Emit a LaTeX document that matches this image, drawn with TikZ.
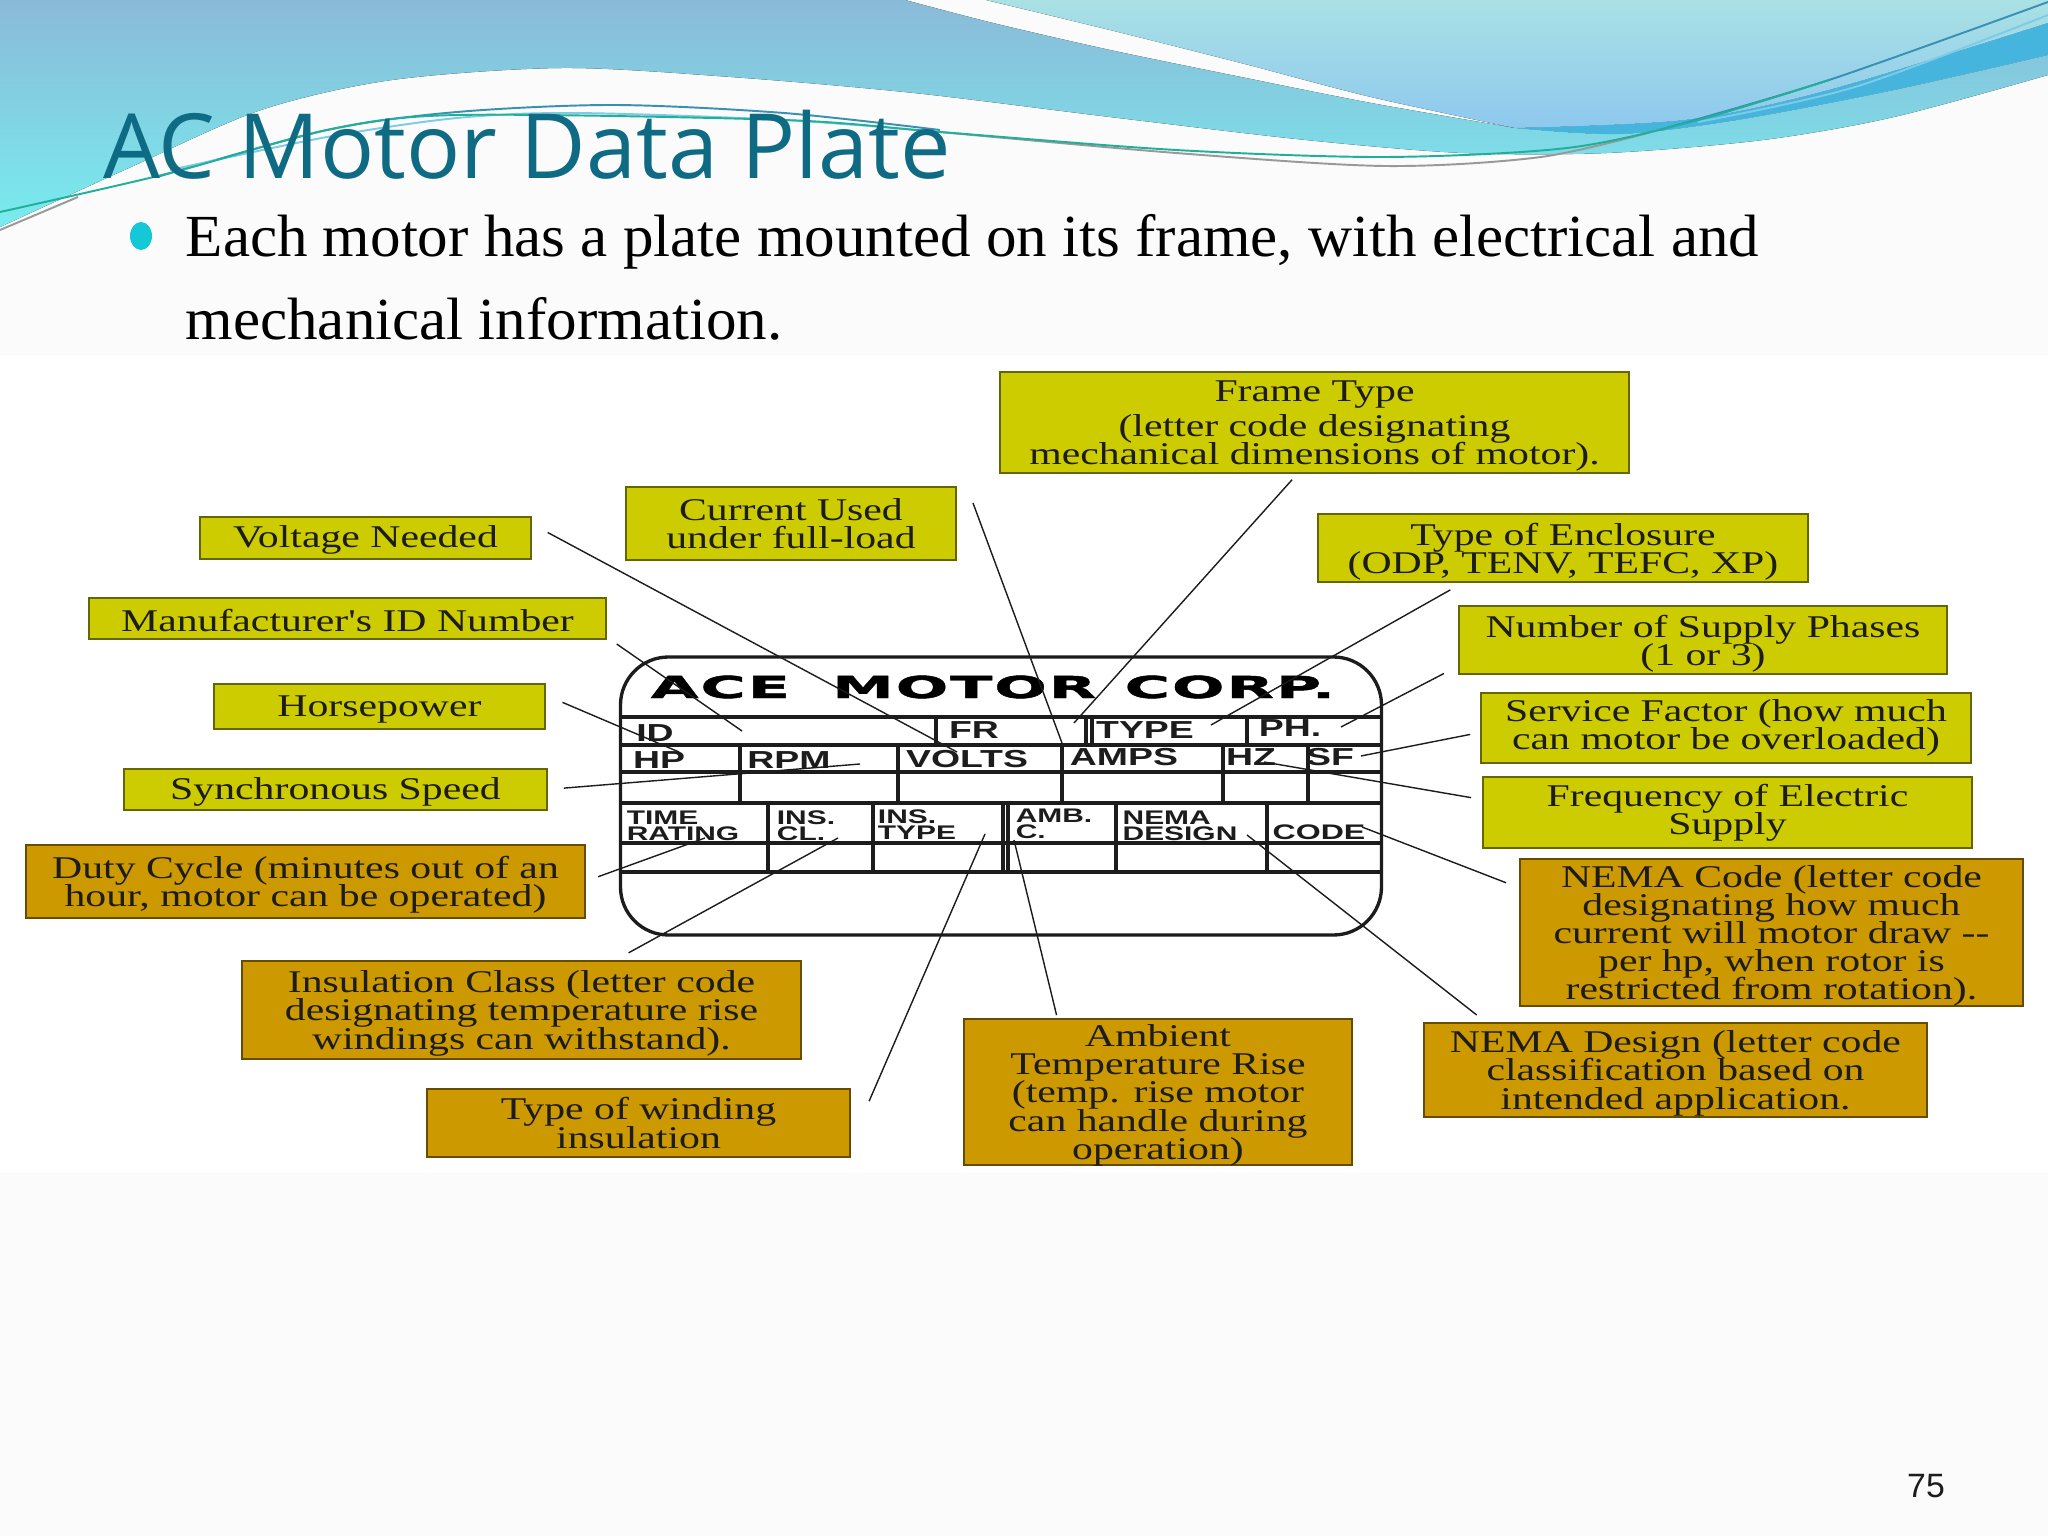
\documentclass[tikz,border=0pt]{standalone}
\usepackage{fontspec}
\usetikzlibrary{shapes.geometric}
\setmainfont{Liberation Serif}
\newfontfamily\titlefont{Open Sans}
\newfontfamily\bodyfont[FakeStretch=1.022]{Liberation Serif}
\newfontfamily\tagfont[FakeStretch=1.32]{Liberation Serif}
\newfontfamily\platefont[FakeStretch=1.52]{Liberation Sans}
\newfontfamily\brandfont[FakeStretch=2.05,LetterSpace=6,FakeBold=1.5]{DejaVu Sans}
\newfontfamily\pagefont{Liberation Sans}
\lineskiplimit=-10pt
\definecolor{cpaper}{HTML}{FBFBFC}
\definecolor{cyel}{HTML}{CCCC00}
\definecolor{cochre}{HTML}{CC9900}
\definecolor{cink}{HTML}{1C1C1C}
\definecolor{ctitle}{HTML}{0F6A84}
\definecolor{cbullet}{HTML}{14C8D8}
\definecolor{cwaveA}{HTML}{8ABAD8}
\definecolor{cwaveB}{HTML}{78ECEF}
\definecolor{cwaveC}{HTML}{A9E1E4}
\definecolor{cwaveD}{HTML}{8EC8EE}
\definecolor{cwaveE}{HTML}{46B5DE}
\definecolor{cwaveF}{HTML}{20B09A}
\tikzset{
  tagbox/.style={draw=#1!50!black, fill=#1, line width=.5pt, inner sep=0pt, outer sep=0pt, align=center,
    text=cink, font=\tagfont\fontsize{9}{8}\selectfont, execute at begin node={\rule{0pt}{7.6pt}}},
  tagbox/.default=cyel,
  tagtall/.style={text depth=0pt},
  lead/.style={draw=cink, line width=.4pt},
  plateline/.style={draw=cink, line width=.95pt},
  cell/.style={inner sep=0pt, outer sep=0pt, text=cink, font=\platefont\bfseries\fontsize{7}{7}\selectfont},
  cellsmall/.style={cell, align=left, font=\platefont\bfseries\fontsize{5.6}{4.6}\selectfont},
  ribbon/.style={line width=.55pt, fill=none},
}

\begin{document}
\begin{tikzpicture}[x=1cm, y=-1cm]
  \useasboundingbox (0,0) rectangle (20.48,15.36);
  % slide background
  \fill[cpaper] (0,0) rectangle (20.48,15.36);
  \fill[white] (0,3.55) rectangle (20.48,11.73);
  \fill[top color=cwaveA, bottom color=cwaveB] (0,0) -- (9.05,0)
    -- plot[smooth] coordinates {(9.05,0) (9.93,.23) (11.1,.5) (12.41,.77) (13.71,1.03) (15.15,1.28)}
    -- plot[smooth] coordinates {(15.15,1.28) (16.2,1.34) (17.37,1.2) (18.94,.9) (20.48,.55)}
    -- plot[smooth] coordinates {(20.48,.75) (18.94,1.17) (17.63,1.4) (16.07,1.53) (14.63,1.53) (13.06,1.4) (11.1,1.17) (9.14,.93) (7.31,.77) (5.62,.68) (3.92,.8) (2.61,1.1) (1.31,1.67) (0,2.27)}
    -- cycle;
  \fill[top color=cwaveC, bottom color=cwaveD] (9.86,0) -- (20.48,0) -- (20.48,.23)
    -- plot[smooth] coordinates {(20.48,.23) (18.29,.9) (16.85,1.2) (15.15,1.28)}
    -- plot[smooth] coordinates {(15.15,1.28) (13.71,.97) (12.41,.63) (11.1,.3) (9.86,0)} -- cycle;
  \fill[cwaveE] plot[smooth] coordinates {(15.15,1.28) (16.85,1.2) (18.29,.9) (20.48,.23)}
    -- plot[smooth] coordinates {(20.48,.55) (18.94,.9) (17.37,1.2) (16.2,1.34) (15.15,1.28)} -- cycle;
  \draw[ribbon, draw=cwaveE!80!black] plot[smooth] coordinates {(1.57,1.77) (3.27,1.3) (4.57,1.12) (6.14,1.05) (7.84,1.13) (9.4,1.3)};
  \draw[ribbon, draw=cwaveE!70!white] plot[smooth] coordinates {(1.7,1.7) (3.27,1.37) (4.57,1.18) (5.75,1.13) (7.84,1.2) (9.4,1.32)};
  \draw[ribbon, draw=gray!80] plot[smooth] coordinates {(0,2.3) (.78,1.97)};
  \draw[ribbon, draw=gray!80] plot[smooth] coordinates {(9.4,1.32) (11.76,1.53) (13.85,1.66) (15.41,1.57) (16.59,1.3)};
  \draw[ribbon, draw=cwaveE!80!black] plot[smooth] coordinates {(16.59,1.3) (18.29,.8) (20.48,.02)};
  \draw[ribbon, draw=cwaveE!70!white] plot[smooth] coordinates {(16.98,1.22) (18.55,.87) (20.48,.15)};
  \draw[ribbon, draw=cwaveF] plot[smooth] coordinates {(0,2.12) (1.7,1.73) (3.27,1.3) (4.57,1.15) (7.84,1.2) (9.4,1.32) (11.76,1.5) (13.85,1.57) (15.67,1.48) (16.98,1.2) (18.29,.8)};
  % heading and bullet
  \node[anchor=base west, inner sep=0pt, text=ctitle, font=\titlefont\fontsize{25.6}{26}\selectfont] (title) at (1.03,1.79) {AC Motor Data Plate};
  \node[ellipse, fill=cbullet, inner sep=0pt, minimum width=.22cm, minimum height=.28cm] (dot) at (1.41,2.36) {};
  \node[anchor=base west, inner sep=0pt, font=\bodyfont\fontsize{17}{24}\selectfont] (line1) at (1.85,2.57) {Each motor has a plate mounted on its frame, with electrical and};
  \node[anchor=base west, inner sep=0pt, font=\bodyfont\fontsize{17}{24}\selectfont] (line2) at (1.85,3.40) {mechanical information.};
  % the plate
  \node[draw=cink, line width=.95pt, rounded corners=.48cm, minimum width=7.61cm, minimum height=2.78cm, inner sep=0pt] (plate) at (10.01,7.96) {};
  \draw[plateline] (6.2,7.17) -- (13.82,7.17) (6.2,7.45) -- (13.82,7.45) (6.2,7.72) -- (13.82,7.72)
    (6.2,8.03) -- (13.82,8.03) (6.2,8.43) -- (13.82,8.43) (6.2,8.72) -- (13.82,8.72);
  \draw[plateline] (9.36,7.17) -- (9.36,7.45) (10.86,7.17) -- (10.86,7.45) (10.92,7.17) -- (10.92,7.45) (12.47,7.17) -- (12.47,7.45);
  \draw[plateline] (7.4,7.45) -- (7.4,8.03) (8.98,7.45) -- (8.98,8.03) (10.62,7.45) -- (10.62,8.03) (12.23,7.45) -- (12.23,8.03) (13.08,7.45) -- (13.08,8.03);
  \draw[plateline] (7.68,8.03) -- (7.68,8.72) (8.73,8.03) -- (8.73,8.72) (10.03,8.03) -- (10.03,8.72) (10.08,8.03) -- (10.08,8.72) (11.16,8.03) -- (11.16,8.72) (12.67,8.03) -- (12.67,8.72);
  \node[inner sep=0pt, text=black, font=\brandfont\bfseries\fontsize{8.6}{9}\selectfont] (brand) at (9.93,6.87) {ACE\hspace{12pt}MOTOR\hspace{8pt}CORP.};
  \node[cell] (cid) at (6.55,7.33) {ID};
  \node[cell] (cfr) at (9.74,7.30) {FR};
  \node[cell] (ctype) at (11.45,7.30) {TYPE};
  \node[cell] (cph) at (12.90,7.28) {PH.};
  \node[cell] (chp) at (6.59,7.60) {HP};
  \node[cell] (crpm) at (7.89,7.60) {RPM};
  \node[cell] (cvolts) at (9.67,7.59) {VOLTS};
  \node[cell] (camps) at (11.24,7.57) {AMPS};
  \node[cell] (chz) at (12.51,7.57) {HZ};
  \node[cell] (csf) at (13.30,7.57) {SF};
  \node[cellsmall] (ctime) at (6.83,8.26) {TIME\\RATING};
  \node[cellsmall] (cinscl) at (8.06,8.26) {INS.\\CL.};
  \node[cellsmall] (cinstype) at (9.17,8.25) {INS.\\TYPE};
  \node[cellsmall] (camb) at (10.54,8.24) {AMB.\\C.};
  \node[cellsmall] (cnema) at (11.80,8.26) {NEMA\\DESIGN};
  \node[cell, font=\platefont\bfseries\fontsize{6}{6}\selectfont] (ccode) at (13.19,8.32) {CODE};
  % labels, yellow row
  \node[tagbox, tagtall, minimum width=6.29cm, minimum height=1.01cm] (frame) at (13.145,4.225) {Frame Type\\[2pt] (letter code designating\\ mechanical dimensions of motor).};
  \node[tagbox, minimum width=3.30cm, minimum height=.73cm] (cur) at (7.91,5.235) {Current Used\\ under full-load};
  \node[tagbox, minimum width=3.31cm, minimum height=.42cm] (vneed) at (3.655,5.38) {Voltage Needed};
  \node[tagbox, tagtall, minimum width=4.90cm, minimum height=.68cm] (encl) at (15.63,5.48) {Type of Enclosure\\ (ODP, TENV, TEFC, XP)};
  \node[tagbox, minimum width=5.17cm, minimum height=.41cm] (idnum) at (3.475,6.185) {Manufacturer's ID Number};
  \node[tagbox, tagtall, minimum width=4.88cm, minimum height=.68cm] (phases) at (17.03,6.40) {Number of Supply Phases\\ (1 or 3)};
  \node[tagbox, minimum width=3.31cm, minimum height=.45cm] (hpow) at (3.795,7.065) {Horsepower};
  \node[tagbox, minimum width=4.90cm, minimum height=.70cm] (sfac) at (17.26,7.28) {Service Factor (how much\\ can motor be overloaded)};
  \node[tagbox, minimum width=4.23cm, minimum height=.41cm] (sync) at (3.355,7.895) {Synchronous Speed};
  \node[tagbox, minimum width=4.89cm, minimum height=.71cm] (freq) at (17.275,8.125) {Frequency of Electric\\ Supply};
  % labels, ochre row
  \node[tagbox=cochre, tagtall, minimum width=5.59cm, minimum height=.73cm] (duty) at (3.055,8.815) {Duty Cycle (minutes out of an\\ hour, motor can be operated)};
  \node[tagbox=cochre, tagtall, minimum width=5.03cm, minimum height=1.47cm] (ncode) at (17.715,9.325) {NEMA Code (letter code\\ designating how much\\ current will motor draw --\\ per hp, when rotor is\\ restricted from rotation).};
  \node[tagbox=cochre, tagtall, minimum width=5.59cm, minimum height=.98cm] (insul) at (5.215,10.10) {Insulation Class (letter code\\ designating temperature rise\\ windings can withstand).};
  \node[tagbox=cochre, tagtall, minimum width=5.03cm, minimum height=.94cm] (ndes) at (16.755,10.70) {NEMA Design (letter code\\ classification based on\\ intended application.};
  \node[tagbox=cochre, tagtall, minimum width=3.88cm, minimum height=1.46cm] (ambt) at (11.58,10.92) {Ambient\\ Temperature Rise\\ (temp. rise motor\\ can handle during\\ operation)};
  \node[tagbox=cochre, minimum width=4.23cm, minimum height=.68cm] (wind) at (6.385,11.23) {Type of winding\\ insulation};
  % free ends on the plate
  \coordinate (atVolts) at (9.57,7.52);
  \coordinate (atId) at (7.42,7.31);
  \coordinate (atHp) at (6.79,7.52);
  \coordinate (atRpm) at (8.60,7.64);
  \coordinate (atTime) at (7.05,8.38);
  \coordinate (atInsCl) at (8.38,8.38);
  \coordinate (atInsType) at (9.85,8.34);
  \coordinate (atAmb) at (10.14,8.40);
  \coordinate (atNema) at (12.47,8.35);
  \coordinate (atCode) at (13.62,8.27);
  \coordinate (atHz) at (12.64,7.62);
  \coordinate (atSf) at (13.61,7.56);
  \coordinate (atPh) at (13.41,7.27);
  \coordinate (atType) at (12.11,7.25);
  \coordinate (atFrame) at (10.74,7.23);
  \coordinate (atAmps) at (10.62,7.43);
  % leaders
  \draw[lead, shorten <=.19cm] (vneed.5.2) -- (atVolts);
  \draw[lead, shorten <=.13cm] (idnum.-4.7) -- (atId);
  \draw[lead, shorten <=.19cm] (hpow.4.9) -- (atHp);
  \draw[lead, shorten <=.17cm] (sync.0.9) -- (atRpm);
  \draw[lead, shorten <=.14cm] (duty.-0.3) -- (atTime);
  \draw[lead, shorten <=.17cm] (insul.28.4) -- (atInsCl);
  \draw[lead, shorten <=.48cm] (wind.-6.5) -- (atInsType);
  \draw[lead, shorten <=.04cm] (ambt.144.4) -- (atAmb);
  \draw[lead, shorten <=.13cm] (ndes.166.1) -- (atNema);
  \draw[lead, shorten <=.15cm] (ncode.170.5) -- (atCode);
  \draw[lead, shorten <=.12cm] (freq.177.1) -- (atHz);
  \draw[lead, shorten <=.11cm] (sfac.181.4) -- (atSf);
  \draw[lead, shorten <=.17cm] (phases.186.9) -- (atPh);
  \draw[lead, shorten <=.16cm] (encl.199) -- (atType);
  \draw[lead, shorten <=.09cm] (frame.252.9) -- (atFrame);
  \draw[lead] (cur.north east) ++(.17,.16) -- (atAmps);
  % page number
  \node[inner sep=0pt, font=\pagefont\fontsize{9.6}{10}\selectfont, text=cink] (pageno) at (19.26,14.86) {75};
\end{tikzpicture}
\end{document}
